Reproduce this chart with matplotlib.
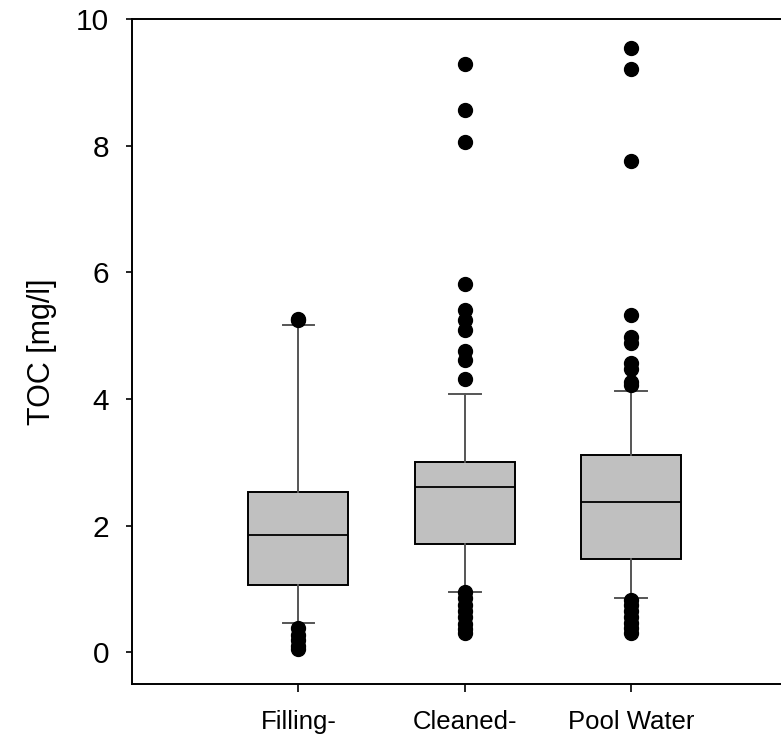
import matplotlib
matplotlib.use("Agg")
import matplotlib.pyplot as plt

plt.rcParams['font.family'] = ['Liberation Sans', 'DejaVu Sans']

# Data (TOC in mg/l)
groups = ["Filling-", "Cleaned-", "Pool Water"]
q1 = [1.06, 1.71, 1.47]
medians = [1.86, 2.61, 2.38]
q3 = [2.53, 3.00, 3.11]
whislo = [0.46, 0.96, 0.85]
whishi = [5.17, 4.08, 4.12]
fliers_filling = [5.26, 5.24, 0.38, 0.28, 0.20, 0.10, 0.06]
fliers_cleaned = [9.29, 8.56, 8.06, 5.81, 5.40, 5.25, 5.09, 4.76, 4.61, 4.31,
                  0.95, 0.85, 0.75, 0.65, 0.55, 0.45, 0.37, 0.30]
fliers_pool = [9.54, 9.21, 7.76, 5.32, 4.98, 4.88, 4.57, 4.47, 4.27, 4.22,
               0.82, 0.74, 0.65, 0.55, 0.47, 0.38, 0.30]
fliers = [fliers_filling, fliers_cleaned, fliers_pool]

stats = []
for i, name in enumerate(groups):
    stats.append(dict(label=name, q1=q1[i], med=medians[i], q3=q3[i],
                      whislo=whislo[i], whishi=whishi[i], fliers=fliers[i]))

fig = plt.figure(figsize=(7.81, 7.35), dpi=100)
ax = fig.add_axes([132 / 781, 1 - 684 / 735, (781 - 132) / 781, (684 - 19) / 735])

ax.bxp(stats, positions=[1, 2, 3], widths=0.6, patch_artist=True,
       boxprops=dict(facecolor="#c0c0c0", edgecolor="black", linewidth=1.4),
       medianprops=dict(color="black", linewidth=1.3),
       whiskerprops=dict(color="#555555", linewidth=1.4),
       capprops=dict(color="#555555", linewidth=1.4),
       capwidths=0.19,
       flierprops=dict(marker="o", markerfacecolor="black", markeredgecolor="black",
                       markersize=10))

ax.set_xlim(0, 3.9)
ax.set_ylim(-0.5, 10)
ax.set_yticks([0, 2, 4, 6, 8, 10])
ax.set_ylabel("TOC [mg/l]", fontsize=22, labelpad=14)
ax.tick_params(axis="y", direction="out", length=4.5, width=1.2, labelsize=21.5, pad=12)
ax.tick_params(axis="x", direction="out", length=5.8, width=1.2, labelsize=18.5, pad=13)
ax.spines["right"].set_visible(False)
for s in ["left", "top", "bottom"]:
    ax.spines[s].set_linewidth(1.4)

fig.savefig("out.png", dpi=100)
